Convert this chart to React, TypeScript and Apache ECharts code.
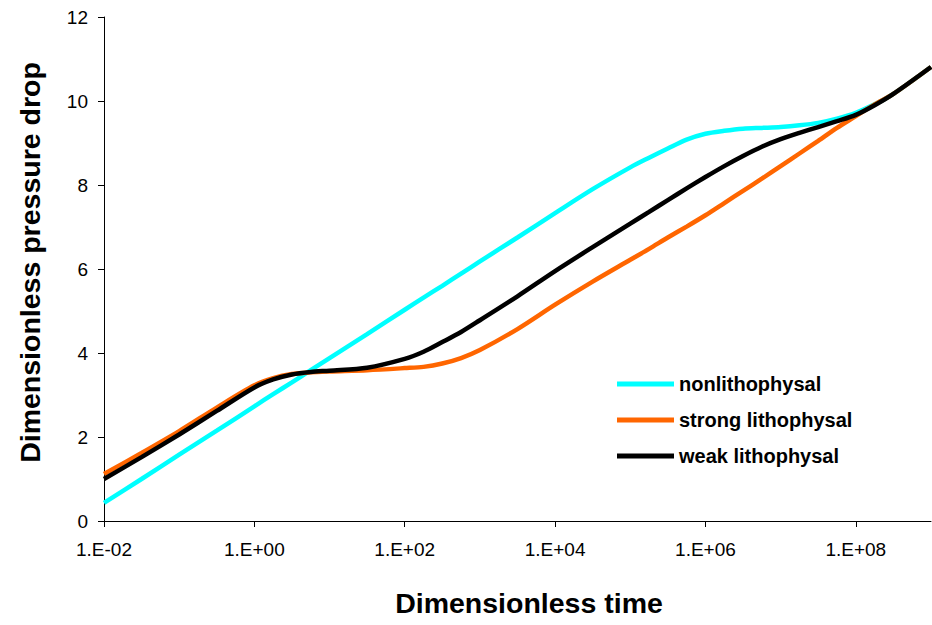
import React, { useEffect, useRef } from "react";
import * as echarts from "echarts";

// Dimensionless time (log scale)
const times = [
  0.01, 0.0316, 0.1, 0.316, 1, 1.78, 3.16, 5.62, 10, 31.6, 100, 178, 316, 562,
  1000, 3160, 1e4, 3.16e4, 1e5, 1.78e5, 3.16e5, 5.62e5, 1e6, 1.78e6, 3.16e6,
  5.62e6, 1e7, 1.78e7, 3.16e7, 5.62e7, 1e8, 1.78e8, 3.16e8, 1e9,
];

const nonlithophysal = [
  0.43, 1.0, 1.58, 2.15, 2.73, 3.02, 3.3, 3.59, 3.88, 4.45, 5.03, 5.32, 5.6,
  5.89, 6.18, 6.75, 7.33, 7.9, 8.42, 8.65, 8.87, 9.08, 9.22, 9.29, 9.34, 9.36,
  9.38, 9.42, 9.48, 9.58, 9.72, 9.92, 10.17, 10.81,
];

const strongLithophysal = [
  1.12, 1.62, 2.14, 2.7, 3.23, 3.4, 3.5, 3.54, 3.56, 3.59, 3.64, 3.67, 3.75,
  3.88, 4.07, 4.57, 5.15, 5.7, 6.22, 6.48, 6.75, 7.01, 7.28, 7.57, 7.86, 8.15,
  8.45, 8.75, 9.05, 9.36, 9.64, 9.92, 10.17, 10.81,
];

const weakLithophysal = [
  1.0, 1.52, 2.06, 2.62, 3.18, 3.37, 3.49, 3.55, 3.58, 3.65, 3.86, 4.03, 4.26,
  4.5, 4.78, 5.35, 5.95, 6.52, 7.08, 7.36, 7.64, 7.92, 8.19, 8.45, 8.69, 8.91,
  9.09, 9.24, 9.38, 9.52, 9.67, 9.9, 10.17, 10.81,
];

const seriesNames = ["nonlithophysal", "strong lithophysal", "weak lithophysal"];
const seriesColors = ["#00FFFF", "#FF6600", "#000000"];
const yTicks = [0, 2, 4, 6, 8, 10, 12];

const FONT = '"Liberation Sans", Arial, sans-serif';

function fmtExp(value: number): string {
  const e = Math.round(Math.log10(value));
  if (e % 2 !== 0) return "";
  const abs = Math.abs(e);
  return "1.E" + (e < 0 ? "-" : "+") + (abs < 10 ? "0" + abs : String(abs));
}

export default function App() {
  const ref = useRef<HTMLDivElement>(null);

  useEffect(() => {
    if (!ref.current) return;
    const chart = echarts.init(ref.current, undefined, { renderer: "svg" });
    const allData = [nonlithophysal, strongLithophysal, weakLithophysal];
    chart.setOption({
      animation: false,
      backgroundColor: "#ffffff",
      grid: { left: 104, right: 1, top: 17, bottom: 104, containLabel: false },
      legend: {
        orient: "vertical",
        left: 617,
        top: 374,
        padding: 0,
        icon: "rect",
        itemWidth: 57,
        itemHeight: 5,
        itemGap: 16,
        data: seriesNames,
        textStyle: {
          fontFamily: FONT,
          fontWeight: "bold",
          fontSize: 20,
          color: "#000",
          lineHeight: 20,
        },
      },
      xAxis: {
        type: "log",
        logBase: 100,
        min: 0.01,
        max: 1e9,
        interval: 1,
        name: "Dimensionless time",
        nameLocation: "middle",
        nameGap: 67,
        nameTextStyle: {
          fontFamily: FONT,
          fontWeight: "bold",
          fontSize: 28.5,
          color: "#000",
          padding: [0, 0, 0, 23],
        },
        axisLine: { show: true, lineStyle: { color: "#000", width: 1 } },
        axisTick: { show: true, inside: false, length: 6, lineStyle: { color: "#000" } },
        axisLabel: {
          formatter: (v: number) => fmtExp(v),
          fontFamily: FONT,
          fontSize: 19,
          color: "#000",
          margin: 19,
          showMaxLabel: false,
        },
        splitLine: { show: false },
        minorTick: { show: false },
      },
      yAxis: {
        type: "value",
        min: yTicks[0],
        max: yTicks[yTicks.length - 1],
        interval: 2,
        name: "Dimensionless pressure drop",
        nameLocation: "middle",
        nameGap: 60,
        nameTextStyle: {
          fontFamily: FONT,
          fontWeight: "bold",
          fontSize: 28.5,
          color: "#000",
          padding: [0, 0, 0, 13],
        },
        axisLine: { show: true, lineStyle: { color: "#000", width: 1 } },
        axisTick: { show: true, inside: false, length: 6, lineStyle: { color: "#000" } },
        axisLabel: {
          fontFamily: FONT,
          fontSize: 19,
          color: "#000",
          margin: 16,
        },
        splitLine: { show: false },
      },
      series: seriesNames.map((name, i) => ({
        name,
        type: "line",
        color: seriesColors[i],
        data: times.map((t, j) => [t, allData[i][j]]),
        showSymbol: false,
        smooth: 0.3,
        lineStyle: { width: 4.5, color: seriesColors[i] },
        z: 2 + i,
      })),
    });
    return () => chart.dispose();
  }, []);

  return (
    <div
      ref={ref}
      style={{ position: "fixed", left: 0, top: 0, width: 932, height: 625, background: "#fff" }}
    />
  );
}
